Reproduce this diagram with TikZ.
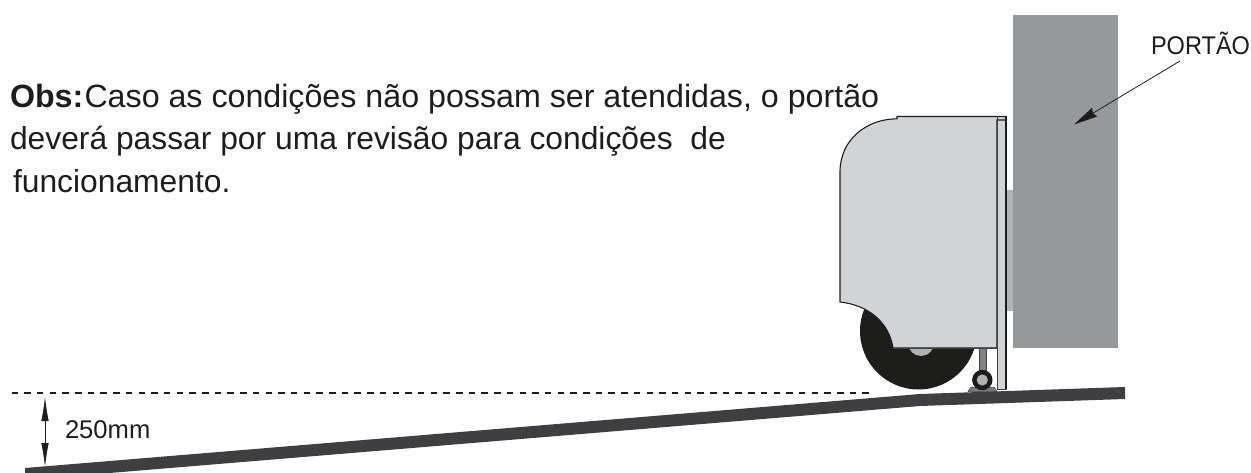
\documentclass[tikz,border=0pt]{standalone}
\usepackage{fontspec}
\usepackage{graphicx}
\setmainfont{Liberation Sans}
\usetikzlibrary{arrows.meta}
\definecolor{ink}{HTML}{1D1D1B}
\definecolor{gatecol}{HTML}{97989B}
\definecolor{platecol}{HTML}{B1B2B4}
\definecolor{bodycol}{HTML}{D1D3D6}
\definecolor{rampcol}{HTML}{3F3F41}
\definecolor{postcol}{HTML}{808184}
\tikzset{
  bigtext/.style={anchor=base west,inner sep=0pt,outer sep=0pt,text=ink,font=\fontsize{32.2}{32.2}\selectfont},
  midtext/.style={anchor=base west,inner sep=0pt,outer sep=0pt,text=ink,font=\fontsize{31.8}{31.8}\selectfont},
  smalltext/.style={anchor=base west,inner sep=0pt,outer sep=0pt,text=ink,font=\fontsize{25.6}{25.6}\selectfont},
  outline/.style={draw=ink,line width=1.1pt,line join=miter},
  thinline/.style={draw=ink,line width=0.8pt},
}
\begin{document}
\begin{tikzpicture}[x=1pt,y=-1pt]
\useasboundingbox (0,0) rectangle (1251,473);
% gate and plate
\fill[gatecol] (1013,15) rectangle (1118,348);
\fill[platecol] (1006,190) rectangle (1013,311);
% ramp
\fill[rampcol] (25,468) -- (920,394) -- (1125,387) -- (1125,399) -- (920,406) -- (25,480) -- cycle;
% dashed level
\coordinate (levelL) at (11.5,393);
\coordinate (levelR) at (875,393);
\draw[ink,line width=1.2pt,dash pattern=on 6.5pt off 6.2pt] (levelL) -- (levelR);
% wheel
\fill[ink] (918.5,331) circle (58.5);
\fill[platecol] (921,343) circle (13);
% foot post and roller
\fill[rampcol!70!white,draw=rampcol,line width=.5pt] (968,391.5) -- (971,387) -- (994,387) -- (997,391.5) -- cycle;
\fill[postcol,draw=rampcol,line width=.6pt] (979,348) rectangle (986,374);
\fill[ink] (982.3,380) circle (10.2);
\fill[platecol] (982.3,380) circle (5.6);
% strip
\filldraw[fill=bodycol,draw=rampcol,line width=1pt] (997,116.5) rectangle (1006,389);
% body
\path[fill=bodycol,outline] (840,302) -- (840,172)
  .. controls (840,140) and (866,119) .. (897,118.8)
  -- (897,116.5) -- (1006,116.5) -- (1006,120) -- (997,120) -- (997,348) -- (893,348)
  .. controls (889,322) and (868,305) .. (840,302) -- cycle;
\draw[rampcol,line width=1pt] (893,348) -- (997,348);
\draw[ink,line width=1.1pt] (997,116.5) -- (1006,116.5) -- (1006,389);
\draw[rampcol,line width=1pt] (997,116.5) -- (997,389);
% texts
\node[bigtext] (obs) at (10,108) {\textbf{Obs:}};
\node[bigtext] (line1) at (84.5,108) {Caso as condições não possam ser atendidas, o portão};
\node[midtext] (line2) at (10,150) {deverá passar por uma revisão para condições\ \ de};
\node[midtext] (line3) at (13,193) {funcionamento.};
\node[smalltext] (dim) at (65,438) {250mm};
\node[smalltext] (portao) at (1151,55) {\scalebox{.92}[1]{PORTÃO}};
% dimension arrow
\coordinate (dimT) at (45,397);
\coordinate (dimB) at (45,467);
\draw[thinline,{Latex[length=24pt,width=7.5pt]}-{Latex[length=24pt,width=7.5pt]}] (dimT) -- (dimB);
% gate arrow
\coordinate (arrTail) at (1180,61);
\coordinate (arrTip) at (1074,124.5);
\draw[thinline,-{Stealth[length=24pt,width=10pt,inset=2pt]}] (arrTail) -- (arrTip);
\end{tikzpicture}
\end{document}
